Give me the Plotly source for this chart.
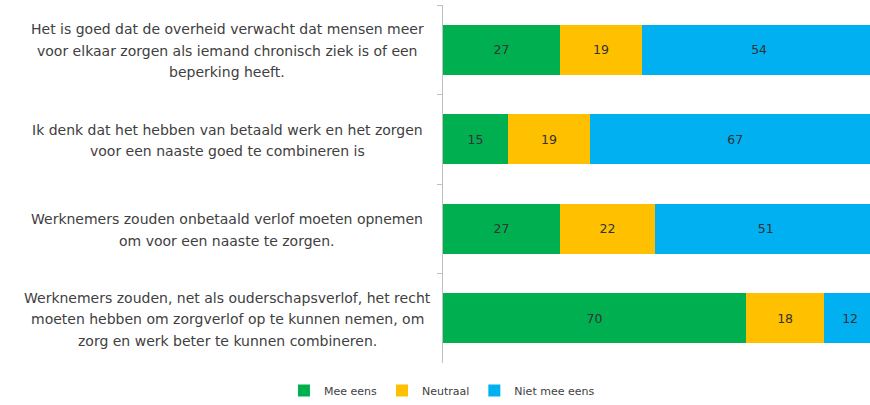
import plotly.graph_objects as go

categories = [
    "Het is goed dat de overheid verwacht dat mensen meer<br>voor elkaar zorgen als iemand chronisch ziek is of een<br>beperking heeft.",
    "Ik denk dat het hebben van betaald werk en het zorgen<br>voor een naaste goed te combineren is",
    "Werknemers zouden onbetaald verlof moeten opnemen<br>om voor een naaste te zorgen.",
    "Werknemers zouden, net als ouderschapsverlof, het recht<br>moeten hebben om zorgverlof op te kunnen nemen, om<br>zorg en werk beter te kunnen combineren.",
]
series_names = ["Mee eens", "Neutraal", "Niet mee eens"]
mee_eens = [27, 15, 27, 70]
neutraal = [19, 19, 22, 18]
niet_mee_eens = [54, 67, 51, 12]
colors = ["#00B050", "#FFC000", "#00B0F0"]

FONT = "DejaVu Sans"
TXT = "#404040"

fig = go.Figure()
for name, vals, col in zip(series_names, [mee_eens, neutraal, niet_mee_eens], colors):
    fig.add_trace(go.Bar(
        y=categories, x=vals, name=name, orientation="h",
        marker=dict(color=col, line=dict(width=0)),
        width=0.56,
        text=vals, texttemplate="%{x}", textposition="inside",
        insidetextanchor="middle",
        textfont=dict(color="#333333", size=12.5, family=FONT),
        constraintext="none",
    ))

LINE_H = 21.5
for cat in categories:
    lines = cat.split("<br>")
    n = len(lines)
    for i, ln in enumerate(lines):
        fig.add_annotation(
            x=-0.505, xref="paper", y=cat, yref="y",
            text=ln, showarrow=False, xanchor="center", yanchor="middle",
            yshift=-LINE_H * (i - (n - 1) / 2) - 1,
            font=dict(family=FONT, size=14, color=TXT),
        )

fig.update_layout(
    barmode="stack",
    width=870, height=405,
    margin=dict(l=443, r=0, t=5, b=42),
    plot_bgcolor="white", paper_bgcolor="white",
    showlegend=True,
    legend=dict(orientation="h", x=0.508, xref="container", xanchor="center",
                y=0.0, yref="container", yanchor="bottom",
                font=dict(family=FONT, size=11, color=TXT),
                itemwidth=30, traceorder="normal"),
    uniformtext=dict(mode="show", minsize=12),
)
fig.update_xaxes(range=[0, 98.6], showgrid=False, showticklabels=False,
                 zeroline=False, showline=False)
fig.update_yaxes(categoryorder="array", categoryarray=categories,
                 autorange="reversed", showticklabels=False,
                 showline=True, linecolor="#BFBFBF", linewidth=1,
                 ticks="outside", tickson="boundaries", ticklen=5,
                 tickcolor="#BFBFBF", showgrid=False)

fig.write_html("out.html", config={"displayModeBar": False},
               post_script="document.body.style.margin='0';document.body.style.overflow='hidden';")
